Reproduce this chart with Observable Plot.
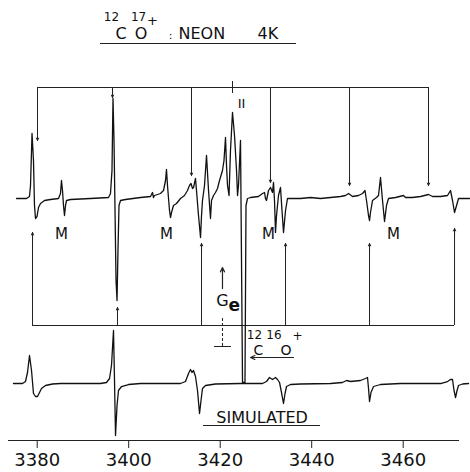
<!DOCTYPE html>
<html><head><meta charset="utf-8">
<script src="https://cdn.jsdelivr.net/npm/d3@7"></script>
<script src="https://cdn.jsdelivr.net/npm/@observablehq/plot@0.6"></script>
<style>body{margin:0;background:#fff}</style>
</head><body><div id="chart"></div>
<script>
// Experimental ESR trace: magnetic field (G) and derivative signal (arb. units)
const expField = [3375.48,3377.66,3378.32,3378.54,3378.87,3379.19,3379.41,3379.63,3379.96,3380.29,3380.72,3381.60,3382.91,3384.66,3385.09,3385.31,3385.53,3385.75,3385.97,3386.19,3386.41,3387.28,3391.65,3395.59,3396.02,3396.35,3396.57,3396.79,3397.01,3397.23,3397.45,3397.66,3397.88,3398.21,3399.30,3402.58,3404.77,3405.20,3405.42,3405.64,3406.95,3407.61,3408.05,3408.26,3408.48,3408.92,3409.14,3409.36,3409.79,3410.45,3411.32,3412.20,3412.85,3413.29,3413.62,3413.95,3414.17,3414.60,3414.82,3415.26,3415.70,3415.92,3416.13,3416.57,3417.01,3417.45,3417.88,3418.10,3418.54,3418.97,3419.41,3419.85,3420.50,3420.83,3421.16,3421.38,3421.60,3421.93,3422.25,3422.69,3423.13,3423.57,3423.79,3424.00,3424.44,3424.88,3425.42,3425.64,3425.97,3426.63,3428.37,3429.25,3429.69,3429.90,3430.12,3430.56,3431.00,3431.43,3431.65,3431.87,3432.09,3432.31,3432.74,3433.18,3433.51,3433.84,3434.28,3434.71,3437.55,3439.74,3441.93,3444.11,3446.30,3447.39,3448.05,3448.92,3450.23,3451.11,3451.65,3451.98,3452.42,3452.64,3452.85,3453.29,3454.17,3454.60,3455.04,3455.48,3455.92,3456.35,3456.79,3458.32,3460.07,3460.51,3462.04,3463.78,3465.53,3466.41,3468.16,3469.69,3470.34,3470.78,3471.22,3471.66,3472.09,3474.50];
const expSignal = [0,0,2,13,65,38,-7,-20,-18,-9,-5,-2,-1,0,5,18,8,-7,-17,-7,-2,-1,0,1,5,28,100,58,-12,-82,-102,-52,-7,-2,-1,1,2,6,1,3,5,8,18,29,13,-12,-19,-14,-7,-5,0,3,8,13,15,10,11,20,8,-17,-39,-17,-2,13,43,8,-20,-2,3,6,10,18,28,38,61,33,13,3,48,86,63,28,3,13,58,-184,-184,-7,0,1,2,5,6,0,-2,8,11,6,16,-2,-34,-17,3,11,-12,-34,-12,0,0,1,0,1,2,3,5,2,3,5,8,-2,-17,-22,-14,-2,1,3,21,-2,-23,-7,0,1,3,1,1,2,4,2,2,3,8,-2,-14,-7,0,0];

// Simulated trace
const simField = [3374.82,3376.79,3377.44,3377.88,3378.32,3378.76,3379.19,3379.63,3380.07,3380.40,3380.94,3381.82,3383.35,3385.09,3393.84,3395.15,3395.81,3396.24,3396.68,3396.90,3397.12,3397.45,3397.77,3398.43,3399.96,3402.58,3411.32,3412.42,3413.07,3413.51,3413.84,3414.17,3414.60,3415.04,3415.48,3415.81,3416.13,3416.79,3418.97,3424.44,3429.25,3430.12,3430.78,3431.43,3432.09,3432.53,3432.97,3433.40,3433.84,3434.17,3434.49,3435.37,3437.55,3444.11,3446.73,3447.61,3448.48,3450.67,3451.76,3452.20,3452.42,3452.64,3452.96,3453.52,3455.04,3459.41,3468.16,3469.69,3470.34,3470.78,3471.11,3471.44,3471.77,3472.09,3472.97,3474.28];
const simSignal = [0,0,2,11,28,13,-10,-13,-13,-10,-5,-2,-0.5,0,0,1,5,18,53,3,-52,-22,-7,-3,-1,0,0,2,10,14,11,13,7,-7,-30,-17,-5,-2,-0.5,0,0,2,6,4,6,4,1,-9,-20,-10,-3,-1,-0.5,0,1,3,2,3,5,6,-5,-18,-9,-3,-1,0,0,2,4,4,-7,-14,-7,-2,-0.5,0];

const tickValues = [3380, 3400, 3420, 3440, 3460];

// Stick diagrams (line positions, G) and where their arrows end (figure level)
const upperLines = [3380.07, 3396.46, 3413.73, 3430.99, 3448.27, 3465.53];
const upperTips  = [332, 375, 297, 290, 287, 287];
const lowerLines = [3378.98, 3397.55, 3415.92, 3434.28, 3452.64, 3471.22];
const lowerTips  = [240, 165, 229, 229, 229, 244];
const mFields = [3385.31, 3408.26, 3430.56, 3457.88];

const expBase = 274, simBase = 89, upperLevel = 385, lowerLevel = 147;
const FONT = "'DejaVu Sans', 'Liberation Sans', sans-serif";

const exp = expField.map((x, i) => ({x, y: expBase + expSignal[i]}));
const sim = simField.map((x, i) => ({x, y: simBase + simSignal[i]}));
const upArrows = upperLines.map((x, i) => ({x, y1: upperLevel, y2: upperTips[i]}));
const loArrows = lowerLines.map((x, i) => ({x, y1: lowerLevel, y2: lowerTips[i]}));

const hr = (y, x1, x2) => ({y, x1, x2});
const hRules = [
  hr(upperLevel, upperLines[0], upperLines[5]),
  hr(lowerLevel, lowerLines[0], lowerLines[5]),
  hr(429, 3393.84, 3436.68),   // title underline
  hr(47, 3416.35, 3441.93),    // SIMULATED underline
  hr(126, 3418.76, 3422.47),   // Ge marker foot
  hr(32, 3373.73, 3472.31)     // field axis line
];

const T = (text, x, y, size) => ({text, x, y, size});
const centered = [
  T("12", 3396.24, 452, 12), T("C", 3398.32, 434, 16), T("17", 3402.15, 452, 12), T("+", 3405.20, 448, 13),
  T("O", 3402.69, 434, 16), T(":", 3409.14, 434, 11),
  T("II", 3424.66, 365, 13),
  ...mFields.map(x => T("M", x, 234, 15)),
  T("G", 3420.50, 167, 16),
  T("12", 3427.50, 134, 12), T("C", 3428.37, 118, 14), T("16", 3431.76, 134, 12), T("O", 3434.39, 118, 14), T("+", 3436.90, 133, 12)
];
const leftAligned = [
  T("NEON", 3410.89, 434, 16), T("4K", 3428.15, 434, 16),
  T("SIMULATED", 3419.16, 50, 16)
];
const boldLabels = [T("e", 3423.10, 162, 17)];

const textOpts = {x: "x", y: "y", text: "text", fontSize: "size", lineAnchor: "bottom", fill: "#111"};

const plot = Plot.plot({
  width: 470, height: 472,
  marginLeft: 0, marginRight: 0, marginTop: 0, marginBottom: 32,
  x: {domain: [3371.98, 3474.71]},
  y: {domain: [32, 472], axis: null},
  style: {fontFamily: FONT, background: "#fff", color: "#111"},
  marks: [
    Plot.ruleY(hRules, {y: "y", x1: "x1", x2: "x2", stroke: "#222", strokeWidth: 1}),
    Plot.ruleX([{x: 3422.69, y1: 379, y2: 391}], {x: "x", y1: "y1", y2: "y2", stroke: "#222"}),
    Plot.ruleX([{x: 3420.50, y1: 126, y2: 154}], {x: "x", y1: "y1", y2: "y2", stroke: "#222", strokeDasharray: "3,2"}),
    Plot.ruleX(upArrows, {x: "x", y1: "y1", y2: "y2", stroke: "#222", strokeWidth: 1}),
    Plot.arrow(upArrows, {x1: "x", x2: "x", y1: d => d.y2 + 8, y2: "y2", stroke: "#222", strokeWidth: 1, headLength: 6, headAngle: 50}),
    Plot.ruleX(loArrows, {x: "x", y1: "y1", y2: "y2", stroke: "#222", strokeWidth: 1}),
    Plot.arrow(loArrows, {x1: "x", x2: "x", y1: d => d.y2 - 8, y2: "y2", stroke: "#222", strokeWidth: 1, headLength: 6, headAngle: 50}),
    Plot.arrow([{x1: 3420.50, y1: 184, x2: 3420.50, y2: 205}], {x1: "x1", y1: "y1", x2: "x2", y2: "y2", stroke: "#222", strokeWidth: 1.2, headLength: 6, headAngle: 50}),
    Plot.arrow([{x1: 3436.02, y1: 115, x2: 3426.63, y2: 115}], {x1: "x1", y1: "y1", x2: "x2", y2: "y2", stroke: "#222", strokeWidth: 1.2, headLength: 6, headAngle: 50}),
    Plot.line(exp, {x: "x", y: "y", stroke: "#111", strokeWidth: 1.3}),
    Plot.line(sim, {x: "x", y: "y", stroke: "#111", strokeWidth: 1.3}),
    Plot.text(centered, {...textOpts, textAnchor: "middle"}),
    Plot.text(leftAligned, {...textOpts, textAnchor: "start"}),
    Plot.text(boldLabels, {...textOpts, textAnchor: "middle", fontWeight: "bold"}),
    Plot.axisX({ticks: tickValues, tickSize: 8, tickPadding: 5, tickFormat: d3.format("d"), fontSize: 18, label: null, stroke: "#222", color: "#111"})
  ]
});
document.getElementById("chart").appendChild(plot);
</script>
</body></html>
